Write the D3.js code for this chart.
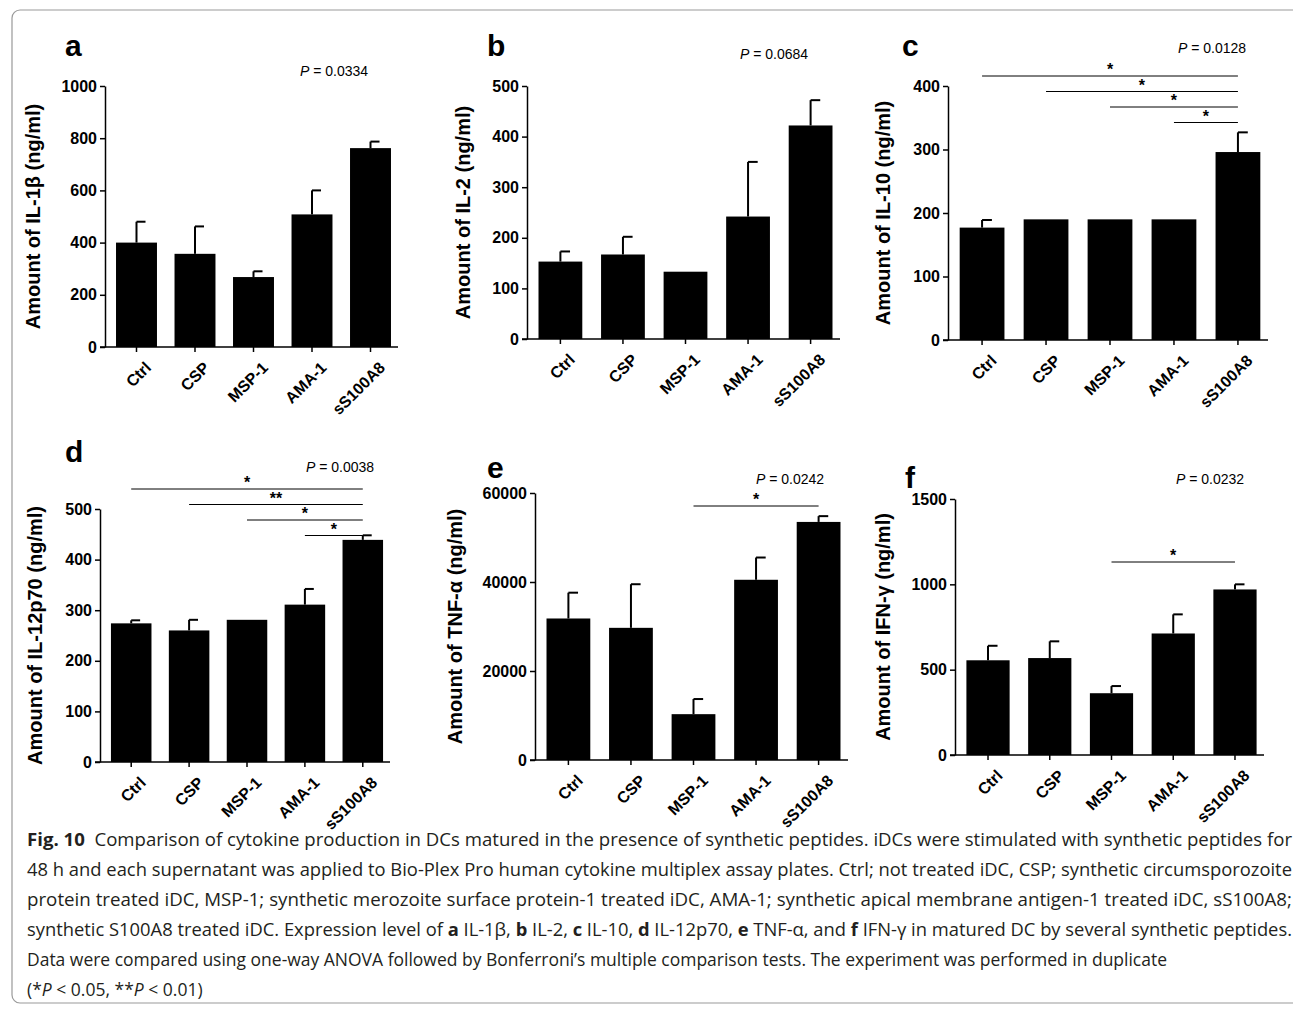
<!DOCTYPE html>
<html lang="en">
<meta charset="utf-8">
<style>
body { margin: 0; background: #fff; }
.cap { font-family: "Liberation Sans Narrow", "Open Sans", sans-serif; font-size: 17.5px; fill: #231f20; }
</style>
<body>
<div id="chart"></div>
<script src="https://d3js.org/d3.v7.min.js"></script>
<script>
// data
var groups = ["Ctrl", "CSP", "MSP-1", "AMA-1", "sS100A8"];
var il1b = [400, 357, 268, 508, 762], il1bErr = [80, 105, 22, 92, 25];
var il2 = [153, 167, 133, 242, 422], il2Err = [20, 35, 0, 108, 50];
var il10 = [177, 190, 190, 190, 296], il10Err = [12, 0, 0, 0, 31];
var il12 = [274, 260, 281, 311, 439], il12Err = [6, 21, 0, 31, 9];
var tnf = [31800, 29700, 10300, 40500, 53500], tnfErr = [5800, 9800, 3400, 5000, 1300];
var ifn = [555, 568, 362, 712, 970], ifnErr = [85, 98, 42, 112, 30];
var pValues = ["0.0334", "0.0684", "0.0128", "0.0038", "0.0242", "0.0232"];
// significance bars: [from group index, label], always to sS100A8
var sigC = [[0, "*"], [1, "*"], [2, "*"], [3, "*"]];
var sigD = [[0, "*"], [1, "**"], [2, "*"], [3, "*"]];
var sigE = [[2, "*"]];
var sigF = [[2, "*"]];

var FONT = "'Liberation Sans', Arial, sans-serif";
var svg = d3.select("#chart").append("svg").attr("width", 1293).attr("height", 1009)
  .style("font-family", FONT);
svg.append("rect").attr("x", 12).attr("y", 10).attr("width", 1300).attr("height", 993)
  .attr("rx", 8).attr("fill", "none").attr("stroke", "#999").attr("stroke-width", 1.2);

var panels = [
  {l: "a", v: il1b, e: il1bErr, max: 1000, step: 200, x0: 105, x1: 398, y0: 347, y1: 86, tx: 65, title: "Amount of IL-1\u03b2 (ng/ml)", p: pValues[0], px: 334, py: 76, sig: [], sy: 0},
  {l: "b", v: il2, e: il2Err, max: 500, step: 100, x0: 527, x1: 840, y0: 339, y1: 86, tx: 57, title: "Amount of IL-2 (ng/ml)", p: pValues[1], px: 774, py: 59, sig: [], sy: 0},
  {l: "c", v: il10, e: il10Err, max: 400, step: 100, x0: 948, x1: 1268, y0: 340, y1: 86, tx: 58, title: "Amount of IL-10 (ng/ml)", p: pValues[2], px: 1212, py: 53, sig: sigC, sy: 76},
  {l: "d", v: il12, e: il12Err, max: 500, step: 100, x0: 100, x1: 390, y0: 762, y1: 509, tx: 58, title: "Amount of IL-12p70 (ng/ml)", p: pValues[3], px: 340, py: 472, sig: sigD, sy: 489},
  {l: "e", v: tnf, e: tnfErr, max: 60000, step: 20000, x0: 535, x1: 848, y0: 760, y1: 493, tx: 73, title: "Amount of TNF-\u03b1 (ng/ml)", p: pValues[4], px: 790, py: 484, sig: sigE, sy: 506},
  {l: "f", v: ifn, e: ifnErr, max: 1500, step: 500, x0: 955, x1: 1264, y0: 755, y1: 499, tx: 65, title: "Amount of IFN-\u03b3 (ng/ml)", p: pValues[5], px: 1210, py: 484, sig: sigF, sy: 562}
];
var letterPos = {a: [65, 56], b: [487, 56], c: [902, 56], d: [65, 462], e: [487, 478], f: [905, 488]};

panels.forEach(function(c) {
  var g = svg.append("g");
  var x = d3.scaleBand().domain(groups).range([c.x0 + 4, c.x1]).paddingInner(0.3).paddingOuter(0.12);
  var y = d3.scaleLinear().domain([0, c.max]).range([c.y0, c.y1]);

  g.selectAll(".bar").data(c.v).join("rect")
    .attr("x", function(d, i) { return x(groups[i]); })
    .attr("y", function(d) { return y(d); })
    .attr("width", x.bandwidth())
    .attr("height", function(d) { return c.y0 - y(d); })
    .attr("fill", "#000");

  // error bars (upper only)
  var cap = x.bandwidth() * 0.22;
  c.v.forEach(function(d, i) {
    if (!c.e[i]) return;
    var cx = x(groups[i]) + x.bandwidth() / 2;
    g.append("line").attr("x1", cx).attr("x2", cx).attr("y1", y(d)).attr("y2", y(d + c.e[i]))
      .attr("stroke", "#000").attr("stroke-width", 2);
    g.append("line").attr("x1", cx).attr("x2", cx + cap).attr("y1", y(d + c.e[i])).attr("y2", y(d + c.e[i]))
      .attr("stroke", "#000").attr("stroke-width", 2);
  });

  var yAxis = g.append("g").attr("transform", "translate(" + c.x0 + ",0)")
    .call(d3.axisLeft(y).tickValues(d3.range(0, c.max + 1, c.step)).tickFormat(d3.format("d")).tickSize(5).tickSizeOuter(0));
  var xAxis = g.append("g").attr("transform", "translate(0," + c.y0 + ")")
    .call(d3.axisBottom(x).tickSize(5).tickSizeOuter(0));
  xAxis.select(".domain").attr("d", "M" + (c.x0 - 5) + ",0H" + c.x1);
  [yAxis, xAxis].forEach(function(a) {
    a.attr("font-family", null).attr("font-size", null);
    a.selectAll("path,line").attr("stroke", "#000").attr("stroke-width", 1.5);
    a.selectAll("text").style("font-size", "16px").style("font-weight", "bold").style("fill", "#000");
  });
  xAxis.selectAll("text").attr("text-anchor", "end").attr("dy", "0.35em")
    .attr("transform", "translate(6,12) rotate(-45)");

  g.append("text").attr("transform", "translate(" + (c.x0 - c.tx) + "," + ((c.y0 + c.y1) / 2) + ") rotate(-90)")
    .attr("text-anchor", "middle").attr("font-size", 20).attr("font-weight", "bold").text(c.title);

  var pl = g.append("text").attr("x", c.px).attr("y", c.py).attr("text-anchor", "middle").attr("font-size", 14);
  pl.append("tspan").attr("font-style", "italic").text("P");
  pl.append("tspan").text(" = " + c.p);

  var lp = letterPos[c.l];
  g.append("text").attr("x", lp[0]).attr("y", lp[1]).attr("font-size", 30).attr("font-weight", "bold").text(c.l);

  var xEnd = x(groups[4]) + x.bandwidth() / 2;
  c.sig.forEach(function(s, k) {
    var ly = c.sy + k * 15.5;
    var xs = x(groups[s[0]]) + x.bandwidth() / 2;
    g.append("line").attr("x1", xs).attr("x2", xEnd).attr("y1", ly).attr("y2", ly).attr("stroke", "#000").attr("stroke-width", 1);
    g.append("text").attr("x", (xs + xEnd) / 2).attr("y", ly - 1).attr("text-anchor", "middle")
      .attr("font-size", 16).attr("font-weight", "bold").text(s[1]);
  });
});

// caption
var capLines = [
  [["b", "Fig. 10"], ["n", "  Comparison of cytokine production in DCs matured in the presence of synthetic peptides. iDCs were stimulated with synthetic peptides for"]],
  [["n", "48 h and each supernatant was applied to Bio-Plex Pro human cytokine multiplex assay plates. Ctrl; not treated iDC, CSP; synthetic circumsporozoite"]],
  [["n", "protein treated iDC, MSP-1; synthetic merozoite surface protein-1 treated iDC, AMA-1; synthetic apical membrane antigen-1 treated iDC, sS100A8;"]],
  [["n", "synthetic S100A8 treated iDC. Expression level of "], ["b", "a"], ["n", " IL-1\u03b2, "], ["b", "b"], ["n", " IL-2, "], ["b", "c"], ["n", " IL-10, "], ["b", "d"], ["n", " IL-12p70, "], ["b", "e"], ["n", " TNF-\u03b1, and "], ["b", "f"], ["n", " IFN-\u03b3 in matured DC by several synthetic peptides."]],
  [["n", "Data were compared using one-way ANOVA followed by Bonferroni\u2019s multiple comparison tests. The experiment was performed in duplicate"]],
  [["n", "(*"], ["i", "P"], ["n", " < 0.05, **"], ["i", "P"], ["n", " < 0.01)"]]
];
capLines.forEach(function(line, i) {
  var t = svg.append("text").attr("class", "cap").attr("x", 27).attr("y", 846 + i * 30)
    .attr("textLength", i < 4 ? 1265 : (i === 4 ? 1140 : null)).attr("lengthAdjust", "spacingAndGlyphs");
  line.forEach(function(seg) {
    var ts = t.append("tspan").text(seg[1]).attr("xml:space", "preserve");
    if (seg[0] === "b") ts.attr("font-weight", "bold");
    if (seg[0] === "i") ts.attr("font-style", "italic");
  });
});
</script>
</body>
</html>
